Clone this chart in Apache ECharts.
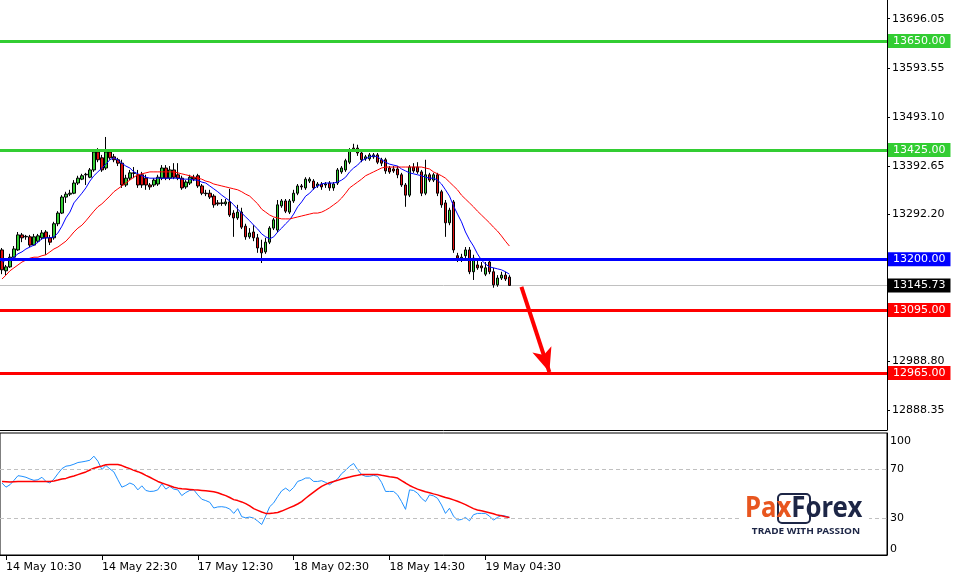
<!DOCTYPE html>
<html>
<head>
<meta charset="utf-8">
<script src="https://cdn.jsdelivr.net/npm/echarts@6/dist/echarts.min.js"></script>
<style>html,body{margin:0;padding:0;background:#fff}#c{width:955px;height:575px}</style>
</head>
<body>
<div id="c"></div>
<script>
// ---------- DATA ----------
const tickLabels = ['14 May 10:30','14 May 22:30','17 May 12:30','18 May 02:30','18 May 14:30','19 May 04:30'];
const tickFirst = 1, tickEvery = 24;

const openP = [13219,13176,13184,13204,13219,13250,13246,13246,13229,13237,
 13244,13256,13244,13244,13273,13295,13328,13334,13336,13357,
 13365,13374,13369,13384,13421,13409,13388,13421,13411,13405,
 13398,13353,13367,13378,13374,13374,13367,13353,13353,13355,
 13367,13388,13367,13384,13374,13367,13349,13357,13369,13372,
 13351,13336,13336,13330,13316,13316,13314,13318,13295,13285,
 13297,13268,13246,13256,13244,13223,13215,13235,13264,13260,
 13310,13320,13297,13320,13336,13351,13347,13361,13361,13351,
 13355,13353,13357,13347,13357,13380,13384,13400,13429,13429,
 13419,13407,13407,13411,13415,13405,13405,13388,13386,13386,
 13374,13353,13332,13390,13390,13380,13336,13374,13363,13374,
 13339,13316,13275,13318,13207,13202,13207,13219,13174,13188,
 13186,13169,13194,13174,13147,13161,13167,13163];
const closeP = [13178,13184,13204,13221,13250,13244,13247,13229,13246,13248,
 13254,13244,13235,13273,13295,13328,13334,13336,13357,13367,
 13372,13375,13384,13421,13405,13384,13421,13409,13405,13398,
 13353,13367,13378,13377,13353,13353,13353,13349,13363,13369,
 13388,13367,13384,13369,13367,13347,13359,13369,13365,13351,
 13336,13335,13328,13312,13314,13315,13318,13291,13285,13297,
 13266,13246,13254,13244,13223,13213,13235,13264,13281,13312,
 13320,13299,13320,13336,13351,13349,13365,13365,13347,13355,
 13349,13355,13347,13355,13384,13388,13403,13425,13425,13419,
 13405,13411,13415,13415,13400,13398,13382,13380,13382,13374,
 13353,13332,13390,13382,13380,13336,13374,13363,13374,13336,
 13312,13275,13301,13219,13202,13204,13219,13174,13202,13182,
 13182,13182,13174,13147,13161,13167,13159,13145.73];
const lowP = [13169,13167,13182,13202,13217,13235,13240,13225,13227,13233,
 13240,13209,13229,13240,13268,13293,13316,13330,13334,13353,
 13363,13353,13367,13380,13400,13380,13384,13405,13400,13392,
 13347,13349,13363,13367,13347,13347,13343,13343,13349,13351,
 13363,13363,13363,13365,13363,13343,13345,13353,13361,13347,
 13332,13330,13324,13306,13310,13310,13310,13287,13246,13281,
 13262,13240,13242,13237,13213,13192,13211,13231,13260,13256,
 13306,13295,13293,13316,13332,13343,13343,13357,13343,13347,
 13343,13347,13341,13341,13353,13376,13380,13396,13421,13413,
 13400,13403,13403,13407,13396,13392,13376,13376,13378,13367,
 13349,13308,13328,13378,13376,13330,13332,13359,13359,13330,
 13306,13246,13270,13213,13194,13194,13202,13169,13157,13178,
 13174,13165,13169,13141,13143,13157,13155,13145];
const highP = [13223,13188,13211,13227,13256,13254,13250,13250,13252,13252,
 13260,13260,13250,13277,13299,13332,13339,13343,13363,13372,
 13376,13378,13388,13425,13429,13415,13452,13425,13417,13409,
 13405,13374,13384,13390,13384,13380,13374,13357,13367,13374,
 13394,13394,13392,13398,13398,13372,13363,13374,13374,13376,
 13355,13343,13343,13334,13322,13324,13324,13345,13301,13312,
 13306,13273,13264,13270,13252,13240,13244,13268,13285,13322,
 13324,13324,13324,13343,13355,13355,13369,13369,13365,13359,
 13359,13359,13361,13359,13388,13392,13407,13429,13438,13436,
 13423,13415,13419,13419,13419,13409,13409,13392,13392,13392,
 13378,13357,13394,13398,13400,13384,13405,13378,13378,13378,
 13343,13322,13306,13322,13213,13211,13225,13225,13209,13198,
 13194,13194,13202,13182,13167,13174,13174,13167];
const maFast = [13194,13198,13200,13204,13211,13215,13221,13225,13229,13235,
 13242,13244,13244,13246,13254,13268,13285,13297,13316,13326,
 13336,13347,13361,13372,13380,13388,13396,13405,13409,13405,
 13398,13392,13388,13380,13376,13372,13369,13367,13367,13367,
 13367,13367,13367,13367,13367,13365,13365,13365,13363,13363,
 13359,13357,13351,13345,13339,13332,13326,13320,13312,13303,
 13295,13287,13279,13270,13262,13252,13246,13242,13246,13256,
 13264,13273,13281,13293,13308,13318,13330,13336,13345,13351,
 13355,13357,13357,13357,13359,13363,13369,13380,13388,13394,
 13403,13407,13411,13413,13411,13405,13400,13396,13394,13392,
 13386,13382,13378,13376,13374,13372,13369,13367,13367,13363,
 13355,13343,13330,13310,13293,13277,13256,13240,13227,13211,
 13198,13190,13184,13182,13180,13178,13174,13169];
const maSlow = [13159,13167,13176,13182,13188,13194,13198,13202,13204,13204,
 13207,13209,13215,13221,13225,13231,13237,13246,13256,13264,
 13270,13279,13289,13299,13308,13314,13322,13330,13339,13345,
 13351,13357,13363,13369,13374,13376,13378,13380,13380,13380,
 13380,13380,13380,13380,13378,13376,13374,13372,13369,13367,
 13365,13361,13359,13355,13353,13351,13349,13347,13345,13343,
 13339,13334,13330,13322,13314,13303,13297,13291,13287,13285,
 13283,13283,13283,13285,13287,13289,13291,13293,13295,13295,
 13297,13301,13306,13312,13318,13326,13336,13347,13353,13359,
 13365,13372,13376,13380,13384,13388,13390,13390,13390,13390,
 13390,13390,13390,13390,13390,13390,13388,13386,13380,13376,
 13372,13367,13359,13351,13343,13332,13324,13316,13308,13299,
 13291,13283,13275,13266,13258,13248,13237,13227];
const rsi = [59.0,55.6,57.6,61.2,65.0,64.5,63.7,62.3,61.2,61.7,
 63.7,60.3,59.0,62.3,66.7,70.8,72.8,73.3,74.4,75.8,
 76.3,76.9,77.7,81.0,76.9,70.0,73.3,70.6,68.1,61.7,
 55.6,57.0,59.0,57.6,53.4,56.7,52.9,52.1,52.3,53.4,
 58.4,54.0,56.2,54.0,53.4,48.7,51.2,52.9,53.4,49.3,
 45.7,44.6,43.2,38.5,39.4,39.6,39.1,37.7,34.1,38.0,
 31.4,30.5,31.1,30.2,27.8,25.0,31.9,39.6,42.7,47.9,
 52.6,54.8,52.3,55.4,60.3,61.4,63.1,63.1,60.3,60.3,
 60.9,59.5,57.6,60.1,62.3,66.7,69.4,72.8,75.0,70.0,
 65.9,64.5,64.5,65.3,64.5,59.5,52.1,52.1,52.1,49.3,
 43.8,37.4,53.4,52.9,50.7,46.5,43.8,49.3,48.5,46.5,
 41.0,34.1,38.3,31.9,28.6,29.1,30.8,28.0,33.0,34.1,
 34.1,34.1,31.9,28.6,30.8,32.5,31.9,30.8];
const rsiSignal = [60.3,60.1,59.8,60.1,60.3,60.3,60.3,60.3,60.3,60.3,
 60.3,60.3,60.3,60.6,61.4,62.3,62.8,63.9,64.8,65.9,
 67.0,68.1,69.7,71.1,72.2,73.0,73.9,74.1,74.1,74.1,
 73.3,71.9,70.8,69.4,68.3,67.0,65.3,63.7,62.0,60.3,
 59.0,57.9,56.7,55.6,54.8,54.3,54.0,53.7,53.4,53.2,
 52.9,52.6,52.3,51.8,51.0,49.8,48.7,47.1,45.4,44.6,
 43.5,42.1,40.2,38.0,36.6,35.2,34.1,34.1,34.4,34.9,
 36.0,37.4,38.8,40.2,41.8,43.8,46.5,49.0,51.5,54.0,
 56.2,57.9,59.2,60.3,61.2,62.3,63.1,63.9,64.8,65.3,
 65.9,65.9,65.9,65.9,65.9,65.3,64.8,64.2,63.7,63.1,
 60.9,59.0,57.0,55.4,54.0,52.9,51.8,51.0,50.1,49.3,
 48.2,47.1,46.3,45.2,44.1,42.7,41.3,39.6,38.0,36.9,
 36.3,35.5,34.7,33.8,32.7,32.2,31.4,30.8];

const priceTicks = [12888.35, 12988.80, 13191.75, 13292.20, 13392.65, 13493.10, 13593.55, 13696.05];
const rsiTicks = [0, 30, 70, 100];
const rsiLevels = [70, 30];
const resistanceLevels = [13650, 13425];
const pivotLevel = 13200;
const supportLevels = [13095, 12965];
const lastPrice = 13145.73;
const arrowFrom = [129.5, 13143];
const arrowTo = [136.75, 12967];

// ---------- LAYOUT ----------
const viewSlots = 222;
const xCats = [];
for (let i = 0; i < viewSlots; i++) xCats.push(String(i));
const candles = openP.map((o, i) => [o, closeP[i], lowP[i], highP[i]]);
const FONT = 'DejaVu Sans';
const GREEN = '#32CD32', BLUE = '#0000FF', RED = '#FF0000';

function levelLine(v, color) {
  return {
    yAxis: v,
    lineStyle: { color: color, width: 3, type: 'solid' },
    label: {
      show: true, position: 'end', distance: 1,
      formatter: v.toFixed(2), color: '#fff', backgroundColor: color,
      fontFamily: FONT, fontSize: 11, padding: [2, 5, 1, 5]
    }
  };
}
const levelData = []
  .concat(resistanceLevels.map(v => levelLine(v, GREEN)))
  .concat([levelLine(pivotLevel, BLUE)])
  .concat(supportLevels.map(v => levelLine(v, RED)));

const isTick = idx => idx >= tickFirst && idx < openP.length && (idx - tickFirst) % tickEvery === 0;

const chart = echarts.init(document.getElementById('c'), null, { renderer: 'canvas' });
chart.setOption({
  animation: false,
  backgroundColor: '#fff',
  grid: [
    { left: -1, right: 68, top: 0, height: 430 },
    { left: -1, right: 68, top: 433, height: 122, show: true, borderColor: '#000', borderWidth: 1, backgroundColor: 'transparent' }
  ],
  xAxis: [
    { type: 'category', gridIndex: 0, data: xCats, boundaryGap: true,
      axisLine: { show: true, lineStyle: { color: '#000', width: 1 } },
      axisTick: { show: false }, axisLabel: { show: false }, splitLine: { show: false } },
    { type: 'category', gridIndex: 1, data: xCats, boundaryGap: true,
      axisLine: { show: true, lineStyle: { color: '#000', width: 1 } },
      axisTick: { show: true, alignWithLabel: true, interval: (idx) => isTick(idx), length: 5, lineStyle: { color: '#000' } },
      axisLabel: { show: true, interval: (idx) => isTick(idx), align: 'left', margin: 7,
        formatter: (val, idx) => tickLabels[(idx - tickFirst) / tickEvery] || '',
        color: '#000', fontFamily: FONT, fontSize: 11 },
      splitLine: { show: false } }
  ],
  yAxis: [
    { type: 'value', gridIndex: 0, position: 'right', min: 12847.5, max: 13734.6, scale: true,
      axisLine: { show: true, lineStyle: { color: '#000', width: 1 } },
      axisTick: { show: true, length: 3, customValues: priceTicks, lineStyle: { color: '#000' } },
      axisLabel: { show: true, customValues: priceTicks, margin: 5, formatter: v => v.toFixed(2),
        color: '#000', fontFamily: FONT, fontSize: 11 },
      splitLine: { show: false } },
    { type: 'value', gridIndex: 1, position: 'right', min: 0, max: 100,
      axisLine: { show: true, lineStyle: { color: '#000', width: 1 } },
      axisTick: { show: true, inside: true, length: 3, customValues: rsiLevels, lineStyle: { color: '#999' } },
      axisLabel: { show: true, customValues: rsiTicks, margin: 3,
        formatter: v => v === 100 ? '{t|100}' : (v === 0 ? '{b|0}' : String(v)),
        rich: { t: { padding: [16, 0, 0, 0], fontFamily: FONT, fontSize: 11, color: '#000' },
                b: { padding: [0, 0, 12, 0], fontFamily: FONT, fontSize: 11, color: '#000' } },
        color: '#000', fontFamily: FONT, fontSize: 11 },
      splitLine: { show: false } }
  ],
  series: [
    { type: 'candlestick', name: 'price', xAxisIndex: 0, yAxisIndex: 0, data: candles, barWidth: 3, z: 3,
      itemStyle: { color: GREEN, color0: '#E01010', borderColor: '#000', borderColor0: '#000', borderWidth: 1 },
      markLine: { silent: true, symbol: ['none', 'none'], z: 1,
        data: [{ yAxis: lastPrice, lineStyle: { color: '#C0C0C0', width: 1, type: 'solid' },
          label: { show: true, position: 'end', distance: 1, formatter: lastPrice.toFixed(2), color: '#fff',
            backgroundColor: '#000', fontFamily: FONT, fontSize: 11, padding: [2, 5, 1, 5] } }] } },
    { type: 'line', name: 'MA fast', xAxisIndex: 0, yAxisIndex: 0, data: maFast, showSymbol: false, z: 4,
      lineStyle: { color: BLUE, width: 1 } },
    { type: 'line', name: 'MA slow', xAxisIndex: 0, yAxisIndex: 0, data: maSlow, showSymbol: false, z: 4,
      lineStyle: { color: RED, width: 1 } },
    { type: 'line', name: 'levels', xAxisIndex: 0, yAxisIndex: 0, data: closeP, showSymbol: false, z: 5,
      lineStyle: { opacity: 0, width: 0 }, silent: true,
      markLine: { silent: true, symbol: ['none', 'none'], data: levelData.concat([
        [{ coord: arrowFrom, symbol: 'none' },
         { coord: arrowTo, symbol: 'arrow', symbolSize: [15, 24],
           lineStyle: { color: RED, width: 4, type: 'solid' } }]
      ]) } },
    { type: 'line', name: 'RSI', xAxisIndex: 1, yAxisIndex: 1, data: rsi, showSymbol: false, z: 3,
      lineStyle: { color: '#1E90FF', width: 1 },
      markLine: { silent: true, symbol: ['none', 'none'], label: { show: false },
        lineStyle: { color: '#C0C0C0', type: [4, 3], width: 1 },
        data: rsiLevels.map(v => ({ yAxis: v })) } },
    { type: 'line', name: 'RSI signal', xAxisIndex: 1, yAxisIndex: 1, data: rsiSignal, showSymbol: false, z: 4,
      lineStyle: { color: RED, width: 1.5 } }
  ],
  graphic: [
    { type: 'rect', shape: { x: 742, y: 490, width: 127, height: 52 }, style: { fill: '#fff' }, z: 50 },
    { type: 'rect', shape: { x: 778, y: 494, width: 32, height: 29, r: 4 },
      style: { fill: 'none', stroke: '#1D2646', lineWidth: 2 }, z: 51 },
    { type: 'text', x: 745, y: 509, scaleX: 0.92, originX: 0, originY: 0, z: 52,
      style: { text: '{o|Pax}{n|Forex}', verticalAlign: 'middle', align: 'left',
        rich: { o: { fill: '#E8561F', fontFamily: 'Noto Sans', fontWeight: 'bold', fontSize: 28 },
                n: { fill: '#1D2646', fontFamily: 'Noto Sans', fontWeight: 'bold', fontSize: 28 } } } },
    { type: 'text', x: 806, y: 532, scaleX: 1.18, originX: 0, originY: 0, z: 52,
      style: { text: 'TRADE WITH PASSION', align: 'center', verticalAlign: 'middle',
        fill: '#1D2646', fontFamily: 'Noto Sans', fontWeight: 'bold', fontSize: 8.5 } }
  ]
});
</script>
</body>
</html>
